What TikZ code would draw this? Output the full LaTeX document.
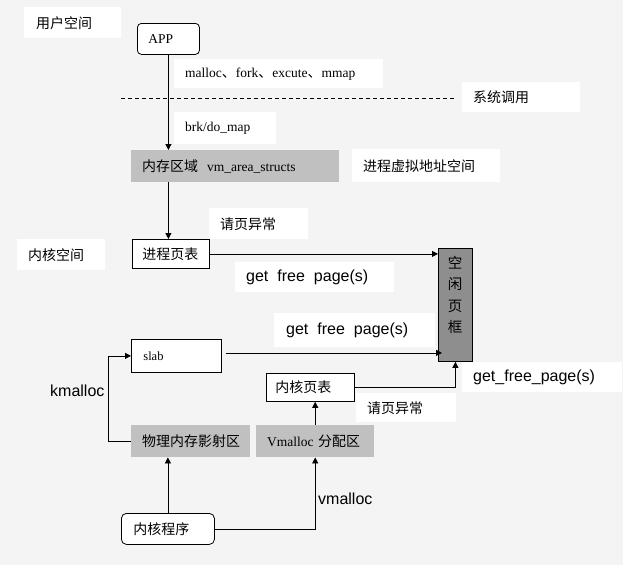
\documentclass[tikz,border=0pt]{standalone}
\usepackage{fontspec}
\setmainfont{Liberation Serif}
\newfontfamily\cjk[Scale=1.035]{Noto Sans CJK SC}
\newfontfamily\ari{Liberation Sans}
\usetikzlibrary{arrows.meta,calc}
\definecolor{bg}{HTML}{F4F4F4}
\definecolor{boxgray}{HTML}{C0C0C0}
\definecolor{framegray}{HTML}{8E8E8E}
\begin{document}
\begin{tikzpicture}[x=1pt,y=-1pt,
  fs/.style={font=\fontsize{13.5}{16}\selectfont},
  bx/.style n args={3}{anchor=north west, minimum height=#1, inner xsep=#2, inner ysep=0pt, text width=#3, align=left, fs},
  framed/.style={draw=black, fill=white, line width=0.8pt},
  arr/.style={-{Triangle[length=6pt,width=6pt]}, line width=0.8pt},
  sans/.style={font=\ari\fontsize{16}{18}\selectfont}
]
\useasboundingbox (0,0) rectangle (623,565);
\fill[bg] (0,0) rectangle (623,565);

% separator
\coordinate (d1) at (121,98);
\coordinate (d2) at (455,98);
\draw[dash pattern=on 4pt off 3pt, line width=0.8pt] (d1) -- (d2);

% label boxes and nodes
\node[bx={31}{12}{73}, fill=white] (user) at (24,7) {\cjk 用户空间};
\node[bx={31}{11}{40}, framed, rounded corners=4pt] (app) at (137,23) {APP};
\node[bx={29}{11}{187}, fill=white] (sc1) at (174,59) {\mbox{malloc{\cjk 、}fork{\cjk 、}excute{\cjk 、}mmap}};
\node[bx={30}{11}{96}, fill=white] (sys) at (462,82) {\cjk 系统调用};
\node[bx={32}{11}{80}, fill=white] (brk) at (174,112) {brk/do\_map};
\node[bx={32}{11}{186}, fill=boxgray] (mem) at (131,150) {\mbox{{\cjk 内存区域}\ \ vm\_area\_structs}};
\node[bx={33}{11}{126}, fill=white] (vsp) at (352,149) {\cjk 进程虚拟地址空间};
\node[bx={31}{11}{77}, fill=white] (pf1) at (209,208) {\cjk 请页异常};
\node[bx={31}{11}{66}, fill=white] (ksp) at (17,239) {\cjk 内核空间};
\node[bx={29}{10}{57}, framed] (ppt) at (132,239) {\cjk 进程页表};
\node[bx={30}{11}{137}, fill=white] (gfp1) at (235,262) {\mbox{\ari\fontsize{16}{18}\selectfont get\ \ free\ \ page(s)}};
\node[bx={34}{12}{137}, fill=white] (gfp2) at (274,313) {\mbox{\ari\fontsize{16}{18}\selectfont get\ \ free\ \ page(s)}};
\node[bx={33}{12}{66}, framed] (slab) at (131,339) {\fontsize{12.5}{14}\selectfont slab};
\node[draw=black, fill=framegray, anchor=north west, minimum width=34, minimum height=113, inner sep=0pt, line width=0.8pt] (free) at (438,248) {};
\node[font=\cjk\fontsize{14}{21.5}\selectfont, align=center, inner sep=0pt] (freetxt) at (455,295) {空\\闲\\页\\框};
\node[bx={30}{11}{138}, fill=white] (gfp3) at (462,362) {\mbox{\ari\fontsize{16}{18}\selectfont get\_free\_page(s)}};
\node[bx={28}{9}{70}, framed] (kpt) at (266,373) {\cjk 内核页表};
\node[bx={29}{11}{78}, fill=white] (pf2) at (356,393) {\cjk 请页异常};
\node[bx={32}{11}{97}, fill=boxgray] (phys) at (131,425) {\mbox{\cjk 物理内存影射区}};
\node[bx={32}{11}{96}, fill=boxgray] (vm) at (256,425) {\mbox{Vmalloc {\cjk 分配区}}};
\node[bx={31}{12}{69}, framed, rounded corners=5pt] (kprog) at (121,513) {\cjk 内核程序};
\node[anchor=west, inner sep=0pt, sans] (km) at (50,391) {kmalloc};
\node[anchor=west, inner sep=0pt, sans] (vml) at (318,499) {vmalloc};

% connectors
\draw[arr] (app.south) -- (app.south |- mem.north);
\draw[arr] (app.south |- mem.south) -- (app.south |- ppt.north);
\draw[arr] (ppt.east) -- (ppt.east -| free.west);
\draw[arr] ([shift={(4,-3)}]slab.east) -- ([shift={(4,-3)}]slab.east -| free.west);
\draw[arr] (kpt.east) -| (free.south);
\draw[arr] (vm.north) -- (vm.north |- kpt.south);
\draw[arr] (kprog.north) -- (kprog.north |- phys.south);
\draw[arr] (kprog.east) -| (vm.south);
\draw[arr] (phys.west) -- ++(-23,0) |- (slab.west);
\end{tikzpicture}
\end{document}
